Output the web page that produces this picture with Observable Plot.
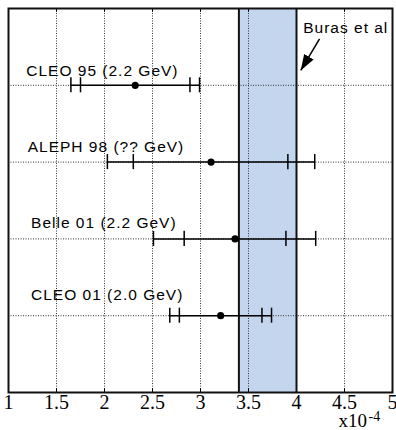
<!DOCTYPE html>
<html>
<head>
<meta charset="utf-8">
<script src="https://cdn.jsdelivr.net/npm/d3@7"></script>
<script src="https://cdn.jsdelivr.net/npm/@observablehq/plot@0.6"></script>
<style>
  html, body { margin: 0; padding: 0; background: #fff; }
  svg { display: block; }
</style>
</head>
<body>
<div id="chart"></div>
<script>
// ---- data ----
const experiments = ["CLEO 95 (2.2 GeV)", "ALEPH 98 (?? GeV)", "Belle 01 (2.2 GeV)", "CLEO 01 (2.0 GeV)"];
const rows = [4, 3, 2, 1];
const central = [2.32, 3.11, 3.36, 3.21];
const innerLow = [1.75, 2.30, 2.83, 2.78];
const innerHigh = [2.89, 3.91, 3.89, 3.64];
const outerLow = [1.65, 2.03, 2.51, 2.68];
const outerHigh = [2.99, 4.19, 4.20, 3.74];
const labelX = [1.185, 1.20, 1.235, 1.235];
const labelY = [4.115, 3.13, 2.14, 1.198];

const bandLow = 3.4, bandHigh = 4.0;
const theoryLabel = "Buras et al";
const theoryLabelX = 4.07, theoryLabelY = 4.675;
const arrowFrom = [4.24, 4.605], arrowTo = [4.044, 4.193];

const xTicks = [1, 1.5, 2, 2.5, 3, 3.5, 4, 4.5, 5];
const xGrid = [1.5, 2, 2.5, 3, 3.5, 4, 4.5];
const yGrid = [1, 2, 3, 4];
const scaleText = "x10", scaleExp = "-4";

// ---- tables ----
const meas = experiments.map((name, i) => ({
  name, y: rows[i], c: central[i],
  il: innerLow[i], ih: innerHigh[i], ol: outerLow[i], oh: outerHigh[i],
  lx: labelX[i], ly: labelY[i]
}));
const ticks = meas.flatMap(d => [d.il, d.ih, d.ol, d.oh].map(x => ({x, y: d.y})));
const tickHalf = 0.098;

const filledArrow = (color, context) => {
  const m = d3.create("svg:marker")
    .attr("viewBox", "-16 -6 16 12")
    .attr("markerUnits", "userSpaceOnUse")
    .attr("markerWidth", 16)
    .attr("markerHeight", 12)
    .attr("refX", 0).attr("refY", 0)
    .attr("orient", "auto");
  m.append("path").attr("d", "M-16,-5.5L0,0L-16,5.5Z").attr("fill", color).attr("stroke", "none");
  return m.node();
};

const serif = "'Liberation Serif', 'Times New Roman', serif";

const plot = Plot.plot({
  width: 396,
  height: 430,
  marginLeft: 8,
  marginRight: 4,
  marginTop: 8,
  marginBottom: 38,
  style: {fontFamily: "'Liberation Sans', Arial, sans-serif", background: "#fff", color: "#000"},
  x: {domain: [1, 5]},
  y: {domain: [0, 5], axis: null},
  marks: [
    Plot.rect([{a: bandLow, b: bandHigh}], {x1: "a", x2: "b", y1: 0, y2: 5, fill: "#c4d6ee"}),
    Plot.ruleX(xGrid, {stroke: "#333", strokeWidth: 1, strokeDasharray: "1,1.5"}),
    Plot.ruleY(yGrid, {stroke: "#333", strokeWidth: 1, strokeDasharray: "1,1.5"}),
    Plot.ruleX(xGrid, {y1: 0, y2: 0.05, stroke: "#000", strokeWidth: 1}),
    Plot.ruleX(xGrid, {y1: 4.95, y2: 5, stroke: "#000", strokeWidth: 1}),
    Plot.ruleX([bandLow, bandHigh], {y1: 0, y2: 5, stroke: "#111", strokeWidth: 2}),
    Plot.ruleY(meas, {x1: "ol", x2: "oh", y: "y", stroke: "#000", strokeWidth: 1.5}),
    Plot.ruleX(ticks, {x: "x", y1: d => d.y - tickHalf, y2: d => d.y + tickHalf, stroke: "#000", strokeWidth: 1.5}),
    Plot.dot(meas, {x: "c", y: "y", r: 3.6, fill: "#000", stroke: "none"}),
    Plot.frame({stroke: "#111", strokeWidth: 2}),
    Plot.text(meas, {x: "lx", y: "ly", text: "name", textAnchor: "start", lineAnchor: "bottom",
      fontSize: 15.5, fill: "#000"}),
    Plot.text([theoryLabel], {x: () => theoryLabelX, y: () => theoryLabelY, text: d => d, textAnchor: "start",
      lineAnchor: "bottom", fontSize: 15.5, fill: "#000"}),
    Plot.link([{x1: arrowFrom[0], y1: arrowFrom[1], x2: arrowTo[0], y2: arrowTo[1]}],
      {x1: "x1", y1: "y1", x2: "x2", y2: "y2", stroke: "#000", strokeWidth: 1.5, markerEnd: filledArrow}),
    Plot.axisX(xTicks, {tickSize: 0, tickPadding: 2, fontSize: 20, fontFamily: serif,
      tickFormat: d => String(d), label: null, fill: "#000"}),
    Plot.text([scaleText], {frameAnchor: "bottom-right", text: d => d, textAnchor: "start", lineAnchor: "bottom",
      dx: -54, dy: 34, fontSize: 19, fontFamily: serif, fill: "#000"}),
    Plot.text([scaleExp], {frameAnchor: "bottom-right", text: d => d, textAnchor: "start", lineAnchor: "bottom",
      dx: -24, dy: 28, fontSize: 14, fontFamily: serif, fill: "#000"})
  ]
});
// widen the label letter spacing like the reference's Helvetica rendering
d3.select(plot).selectAll("text")
  .filter(function () { return experiments.includes(this.textContent) || this.textContent === theoryLabel; })
  .style("letter-spacing", "1px");
document.getElementById("chart").appendChild(plot);
</script>
</body>
</html>
